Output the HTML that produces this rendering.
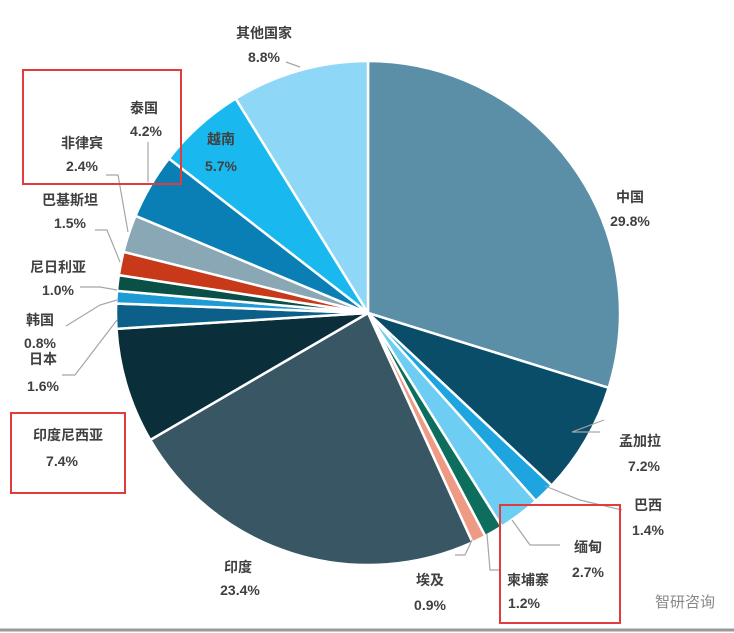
<!DOCTYPE html>
<html><head><meta charset="utf-8"><style>
body{margin:0;background:#fff;}
svg{display:block;font-family:"Liberation Sans","Noto Sans CJK SC",sans-serif;}
text{fill:#404040;font-size:14px;font-weight:bold;text-anchor:middle;}
</style></head><body>
<svg id="s" width="734" height="633" viewBox="0 0 734 633">
<rect x="0" y="0" width="734" height="633" fill="#fff"/>
<line x1="0" y1="630" x2="734" y2="630" stroke="#999" stroke-width="3"/>
<g id="pie"></g>
<g stroke="#a6a6a6" stroke-width="1.2" fill="none">
<polyline points="286,62 300,67"/>
<polyline points="148,142 148,182"/>
<polyline points="106,175 118,175 128,232"/>
<polyline points="95,230 107,230 120,262"/>
<polyline points="80,287 100,287 117,290"/>
<polyline points="66,326 100,305 117,300"/>
<polyline points="62,375 75,375 117,320"/>
<polyline points="600,432 572,432 604,420" />
<polyline points="622,510 580,500 545,486"/>
<polyline points="560,545 530,545 512,520"/>
<polyline points="500,570 490,570 487,534"/>
<polyline points="455,555 465,555 472,540"/>
</g>
<g>
<text x="264" y="38">其他国家</text><text x="264" y="62">8.8%</text>
<text x="144" y="113">泰国</text><text x="146" y="136">4.2%</text>
<text x="82" y="148">非律宾</text><text x="82" y="171">2.4%</text>
<text x="70" y="205">巴基斯坦</text><text x="70" y="228">1.5%</text>
<text x="58" y="272">尼日利亚</text><text x="58" y="295">1.0%</text>
<text x="40" y="325">韩国</text><text x="40" y="348">0.8%</text>
<text x="43" y="364">日本</text><text x="43" y="391">1.6%</text>
<text x="68" y="440">印度尼西亚</text><text x="62" y="466">7.4%</text>
<text x="221" y="144">越南</text><text x="221" y="171">5.7%</text>
<text x="630" y="202">中国</text><text x="630" y="226">29.8%</text>
<text x="640" y="446">孟加拉</text><text x="644" y="471">7.2%</text>
<text x="648" y="510">巴西</text><text x="648" y="535">1.4%</text>
<text x="588" y="552">缅甸</text><text x="588" y="577">2.7%</text>
<text x="528" y="585">柬埔寨</text><text x="524" y="608">1.2%</text>
<text x="430" y="585">埃及</text><text x="430" y="610">0.9%</text>
<text x="238" y="572">印度</text><text x="240" y="595">23.4%</text>
<text x="685" y="607" style="fill:#888;font-weight:normal;font-size:15px">智研咨询</text>
</g>
<g fill="none" stroke="#e03c3c" stroke-width="2">
<rect x="23" y="70" width="158" height="114"/>
<rect x="11" y="413" width="114" height="80"/>
<rect x="500" y="505" width="120" height="118"/>
</g>
</svg>
<script>
var d=[[29.8,"#5b8fa8"],[7.2,"#0a4d68"],[1.4,"#1ea5e0"],[2.7,"#6dcdf2"],[1.2,"#0d6e5e"],[0.9,"#ee9a84"],[23.4,"#395664"],[7.4,"#0a2e3a"],[1.6,"#0b5f88"],[0.8,"#1e9ad4"],[1.0,"#0b5046"],[1.5,"#c8391a"],[2.4,"#8aa7b6"],[4.2,"#0a7fb5"],[5.7,"#19b9f0"],[8.8,"#8fd7f6"]];
var cx=368,cy=313,r=252,a=0,g=document.getElementById("pie"),h="";
d.forEach(function(s){var a2=a+s[0]/100*2*Math.PI;
var x1=cx+r*Math.sin(a),y1=cy-r*Math.cos(a),x2=cx+r*Math.sin(a2),y2=cy-r*Math.cos(a2);
h+='<path d="M'+cx+','+cy+'L'+x1+','+y1+'A'+r+','+r+' 0 '+(a2-a>Math.PI?1:0)+' 1 '+x2+','+y2+'Z" fill="'+s[1]+'" stroke="#fff" stroke-width="2.5"/>';a=a2;});
g.innerHTML=h;
</script>
</body></html>
